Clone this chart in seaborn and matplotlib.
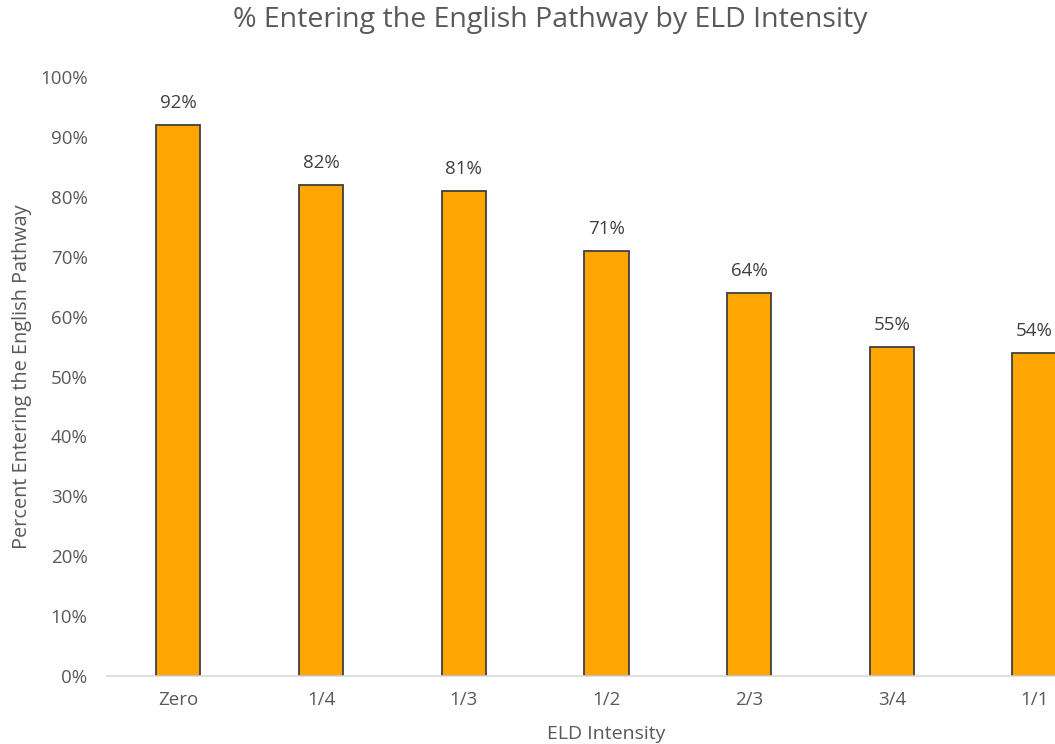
import matplotlib
matplotlib.use("Agg")
import matplotlib.pyplot as plt
import seaborn as sns
import pandas as pd

categories = ["Zero", "1/4", "1/3", "1/2", "2/3", "3/4", "1/1"]
values = [92, 82, 81, 71, 64, 55, 54]
y_ticks = [0, 10, 20, 30, 40, 50, 60, 70, 80, 90, 100]

sns.set_theme(style="white")
plt.rcParams['font.family'] = ['Open Sans', 'DejaVu Sans']

df = pd.DataFrame({"cat": categories, "val": values})

fig = plt.figure(figsize=(10.55, 7.44), dpi=100)
W, H = 1055, 744
left, right, bottom_px, top_px = 107, 107 + 7 * 142.7, 676, 77
ax = fig.add_axes([left / W, (H - bottom_px) / H, (right - left) / W, (bottom_px - top_px) / H])

sns.barplot(data=df, x="cat", y="val", ax=ax, color="#FFA602", width=0.31,
            edgecolor="#404040", linewidth=1.3, saturation=1)

ax.set_xlim(-0.5, 6.5)
ax.set_ylim(0, 100)
ax.set_yticks(y_ticks)
ax.set_yticklabels([f"{t}%" for t in y_ticks])
for s in ["top", "right", "left"]:
    ax.spines[s].set_visible(False)
ax.spines["bottom"].set_color("#D9D9D9")
ax.spines["bottom"].set_linewidth(1.2)
ax.tick_params(axis="both", length=0, labelsize=13.5, labelcolor="#595959")
ax.tick_params(axis="y", pad=14)
ax.tick_params(axis="x", pad=11)

for i, v in enumerate(values):
    ax.annotate(f"{v}%", (i, v), xytext=(0, 9), textcoords="offset points",
                ha="center", va="bottom", fontsize=13.5, color="#404040")

ax.set_xlabel("ELD Intensity", fontsize=14, color="#595959", labelpad=11)
ax.set_ylabel("Percent Entering the English Pathway", fontsize=14.3, color="#595959", labelpad=6)

fig.text(550 / W, 1 - 20 / H, "% Entering the English Pathway by ELD Intensity",
         ha="center", va="center", fontsize=20.5, color="#595959")

fig.savefig("out.png", dpi=100)
